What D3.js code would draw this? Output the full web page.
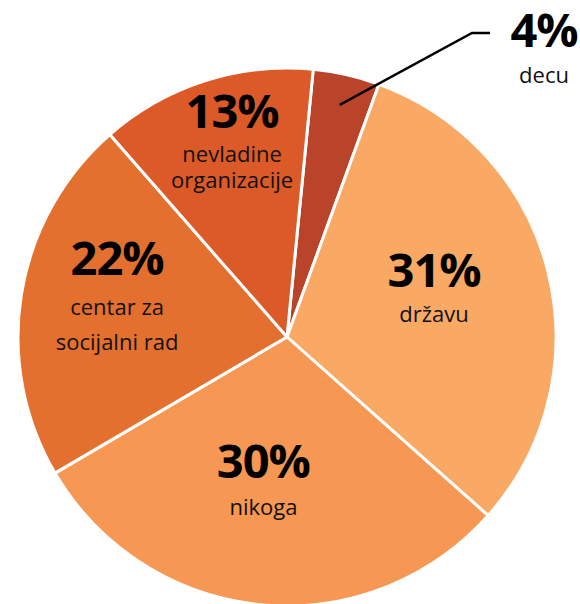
<!DOCTYPE html>
<html>
<head>
<meta charset="utf-8">
<script src="https://cdn.jsdelivr.net/npm/d3@7/dist/d3.min.js"></script>
<style>
  html, body { margin: 0; padding: 0; background: #fff; }
  svg { display: block; }
</style>
</head>
<body>
<script>
const categories = ['decu', 'državu', 'nikoga', 'centar za socijalni rad', 'nevladine organizacije']
const values = [4, 31, 30, 22, 13]
const subLabels = [['decu'], ['državu'], ['nikoga'], ['centar za', 'socijalni rad'], ['nevladine', 'organizacije']]
const colors = ['#b9442a', '#f9a964', '#f69753', '#e4702f', '#dc5a28']

const box = { width: 580, height: 604, cx: 287, cy: 337, radius: 269 }

// nudges of the percent baseline from the label centroid, plus line gaps
const labelLayout = [
  { dx: 0, dy: 0, gap1: 36, lineGap: 0, outside: true },
  { dx: -8, dy: -11, gap1: 35, lineGap: 0 },
  { dx: -8, dy: -18, gap1: 37, lineGap: 0 },
  { dx: -12, dy: -36, gap1: 40, lineGap: 35 },
  { dx: -6, dy: -57, gap1: 34, lineGap: 26 }
]

const svg = d3.select('body').append('svg')
  .attr('width', box.width)
  .attr('height', box.height)

const g = svg.append('g').attr('transform', `translate(${box.cx},${box.cy})`)

const startA = 5.6 * Math.PI / 180
const pie = d3.pie().sort(null).startAngle(startA).endAngle(startA + 2 * Math.PI)
const arcs = pie(values)

const arc = d3.arc().innerRadius(0).outerRadius(box.radius)
const labelArc = d3.arc().innerRadius(160).outerRadius(160)
const leaderArc = d3.arc().innerRadius(238).outerRadius(238)

g.selectAll('path.slice')
  .data(arcs)
  .enter().append('path')
  .attr('class', 'slice')
  .attr('d', arc)
  .attr('fill', (d, i) => colors[i])
  .attr('stroke', '#fff')
  .attr('stroke-width', 3)
  .attr('stroke-linejoin', 'round')

const font = '"Open Sans", "Noto Sans", sans-serif'

arcs.forEach((d, i) => {
  const lay = labelLayout[i]
  let x, y
  if (lay.outside) {
    const p = leaderArc.centroid(d)
    const elbow = [472 - box.cx, 33 - box.cy]
    const end = [490 - box.cx, 33 - box.cy]
    g.append('path')
      .attr('d', d3.line()([p, elbow, end]))
      .attr('fill', 'none')
      .attr('stroke', '#000')
      .attr('stroke-width', 2.4)
    x = 544 - box.cx
    y = 47 - box.cy
  } else {
    const c = labelArc.centroid(d)
    x = c[0] + lay.dx
    y = c[1] + lay.dy
  }
  const t = g.append('g').attr('class', 'label')
  t.append('text')
    .attr('x', x).attr('y', y)
    .attr('text-anchor', 'middle')
    .style('font-family', font)
    .style('font-weight', 700)
    .style('font-size', '47px')
    .style('letter-spacing', '-1px')
    .attr('fill', '#000')
    .text(values[i] + '%')
  subLabels[i].forEach((s, k) => {
    t.append('text')
      .attr('x', x).attr('y', y + lay.gap1 + k * lay.lineGap)
      .attr('text-anchor', 'middle')
      .style('font-family', font)
      .style('font-size', '22px')
      .attr('fill', '#111')
      .text(s)
  })
})
</script>
</body>
</html>
